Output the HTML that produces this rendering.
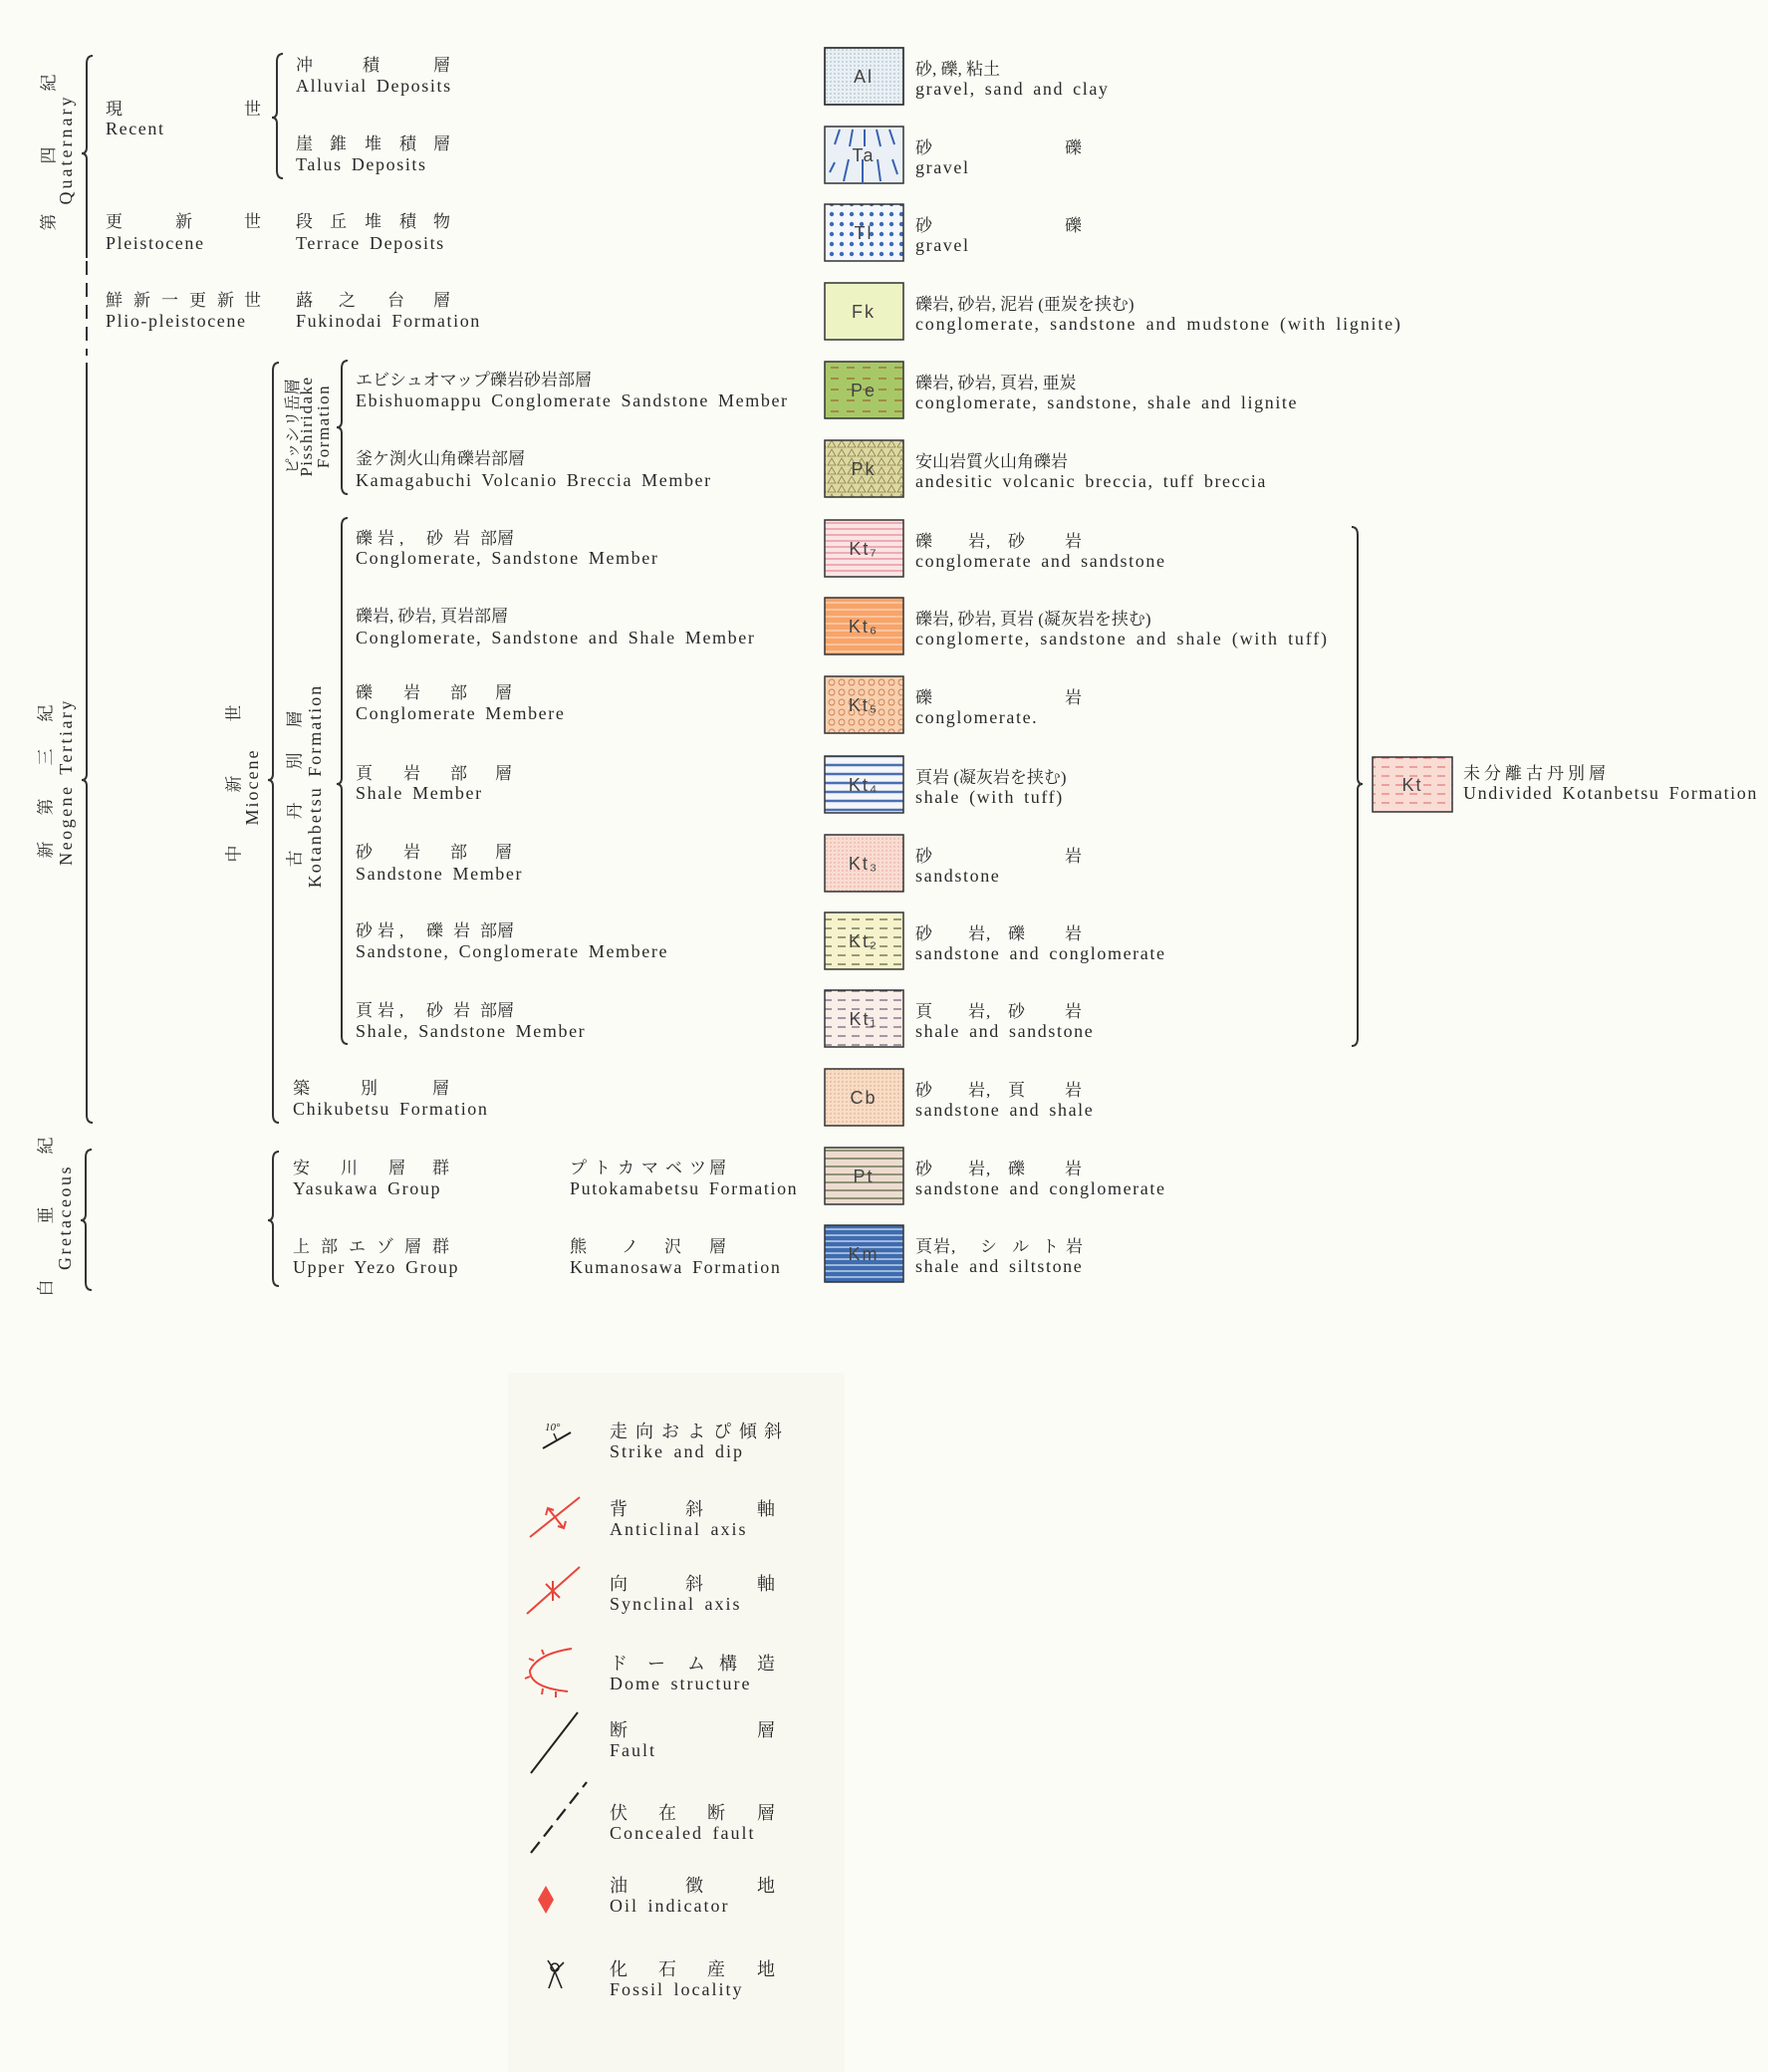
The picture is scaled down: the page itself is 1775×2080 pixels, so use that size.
<!DOCTYPE html>
<html><head><meta charset="utf-8">
<style>
html,body{margin:0;padding:0;background:#fcfcf6;}
svg{display:block;}
.e{font-family:"Liberation Serif",serif;font-size:18px;letter-spacing:1.6px;word-spacing:3px;fill:#2a2a2a;}
.j{font-family:"Liberation Serif","Noto Serif CJK SC",serif;font-size:17px;fill:#2a2a2a;}
.l{font-family:"Liberation Sans",sans-serif;font-size:18px;fill:#444;letter-spacing:2px;}
.br{fill:none;stroke:#333;stroke-width:2;}
</style></head><body>
<svg width="1775" height="2080" viewBox="0 0 1775 2080" xmlns="http://www.w3.org/2000/svg">
<defs>
<pattern id="dotfine" width="4" height="4" patternUnits="userSpaceOnUse"><circle cx="2" cy="2" r="0.7" fill="#9ab"/></pattern>
<pattern id="tl" width="10" height="10" patternUnits="userSpaceOnUse"><rect width="10" height="10" fill="#f4f8fc"/><circle cx="5" cy="5" r="2.2" fill="#3a6ab8"/></pattern>
<pattern id="pe" width="16" height="11" patternUnits="userSpaceOnUse"><rect width="16" height="11" fill="#a8c868"/><line x1="2" y1="6" x2="10" y2="6" stroke="#9a6a30" stroke-width="1.3"/></pattern>
<pattern id="pk" width="10" height="9" patternUnits="userSpaceOnUse"><rect width="10" height="9" fill="#dcd8a0"/><path d="M1 8 L5 1 L9 8 Z" fill="none" stroke="#8a8050" stroke-width="0.8"/></pattern>
<pattern id="kt7" width="10" height="6" patternUnits="userSpaceOnUse"><rect width="10" height="6" fill="#fbe4e4"/><line x1="0" y1="3" x2="10" y2="3" stroke="#e07080" stroke-width="1"/></pattern>
<pattern id="kt6" width="10" height="7" patternUnits="userSpaceOnUse"><rect width="10" height="7" fill="#f7a46a"/><line x1="0" y1="3" x2="10" y2="3" stroke="#fcd0b0" stroke-width="1.5"/></pattern>
<pattern id="kt5" width="10" height="10" patternUnits="userSpaceOnUse"><rect width="10" height="10" fill="#f8d0b0"/><circle cx="5" cy="5" r="3" fill="none" stroke="#d08050" stroke-width="0.9"/></pattern>
<pattern id="kt4" width="10" height="9" patternUnits="userSpaceOnUse"><rect width="10" height="9" fill="#f4f6fa"/><line x1="0" y1="3" x2="10" y2="3" stroke="#4a70b0" stroke-width="2.5"/></pattern>
<pattern id="kt3" width="4" height="4" patternUnits="userSpaceOnUse"><rect width="4" height="4" fill="#f9dcd2"/><circle cx="2" cy="2" r="0.7" fill="#e0a090"/></pattern>
<pattern id="kt2" width="14" height="9" patternUnits="userSpaceOnUse"><rect width="14" height="9" fill="#f6f2cc"/><line x1="1" y1="5" x2="9" y2="5" stroke="#5a6040" stroke-width="1.2"/></pattern>
<pattern id="kt1" width="14" height="9" patternUnits="userSpaceOnUse"><rect width="14" height="9" fill="#faeee8"/><line x1="1" y1="5" x2="9" y2="5" stroke="#605070" stroke-width="1.1"/></pattern>
<pattern id="cb" width="4" height="4" patternUnits="userSpaceOnUse"><rect width="4" height="4" fill="#f9dcc4"/><circle cx="2" cy="2" r="0.7" fill="#d0a080"/></pattern>
<pattern id="pt" width="10" height="8" patternUnits="userSpaceOnUse"><rect width="10" height="8" fill="#ecdcd0"/><line x1="0" y1="3" x2="10" y2="3" stroke="#7a8060" stroke-width="1.6"/></pattern>
<pattern id="km" width="10" height="6" patternUnits="userSpaceOnUse"><rect width="10" height="6" fill="#3e6cb0"/><line x1="0" y1="4" x2="10" y2="4" stroke="#c8d8f0" stroke-width="1.4"/></pattern>
<pattern id="kt" width="14" height="9" patternUnits="userSpaceOnUse"><rect width="14" height="9" fill="#f9dcd4"/><line x1="1" y1="5" x2="9" y2="5" stroke="#e07070" stroke-width="1.1"/></pattern>
</defs>

<!-- legend background -->
<rect x="510" y="1378" width="338" height="702" fill="#f9f8f0"/>

<!-- brackets -->
<path class="br" d="M93 56 Q87 56 87 64 L87 148 Q87 154 82 154 Q87 154 87 160 L87 259"/>
<line x1="87" y1="262" x2="87" y2="357" stroke="#333" stroke-width="2" stroke-dasharray="14 8"/>
<path class="br" d="M87 364 L87 777 Q87 783 82 783 Q87 783 87 789 L87 1119 Q87 1127 93 1127"/>
<path class="br" d="M284 54 Q278 54 278 62 L278 112 Q278 118 273 118 Q278 118 278 124 L278 171 Q278 179 284 179"/>
<path class="br" d="M280 364 Q274 364 274 372 L274 777 Q274 783 269 783 Q274 783 274 789 L274 1119 Q274 1127 280 1127"/>
<path class="br" d="M349 362 Q343 362 343 370 L343 423 Q343 429 338 429 Q343 429 343 435 L343 488 Q343 496 349 496"/>
<path class="br" d="M349 520 Q343 520 343 528 L343 781 Q343 787 338 787 Q343 787 343 793 L343 1040 Q343 1048 349 1048"/>
<path class="br" d="M92 1154 Q86 1154 86 1162 L86 1219 Q86 1225 81 1225 Q86 1225 86 1231 L86 1287 Q86 1295 92 1295"/>
<path class="br" d="M280 1156 Q274 1156 274 1164 L274 1219 Q274 1225 269 1225 Q274 1225 274 1231 L274 1283 Q274 1291 280 1291"/>
<path class="br" d="M1357 529 Q1363 529 1363 537 L1363 781 Q1363 787 1368 787 Q1363 787 1363 793 L1363 1042 Q1363 1050 1357 1050"/>

<!-- vertical labels -->
<g class="j" text-anchor="middle" dominant-baseline="central">
<text x="49" y="83" transform="rotate(-90 49 83)">紀</text>
<text x="49" y="156" transform="rotate(-90 49 156)">四</text>
<text x="49" y="223" transform="rotate(-90 49 223)">第</text>
<text x="46" y="716" transform="rotate(-90 46 716)">紀</text>
<text x="46" y="760" transform="rotate(-90 46 760)">三</text>
<text x="46" y="810" transform="rotate(-90 46 810)">第</text>
<text x="46" y="853" transform="rotate(-90 46 853)">新</text>
<text x="46" y="1150" transform="rotate(-90 46 1150)">紀</text>
<text x="46" y="1220" transform="rotate(-90 46 1220)">亜</text>
<text x="46" y="1293" transform="rotate(-90 46 1293)">白</text>
<text x="235" y="716" transform="rotate(-90 235 716)">世</text>
<text x="235" y="787" transform="rotate(-90 235 787)">新</text>
<text x="235" y="857" transform="rotate(-90 235 857)">中</text>
<text x="296" y="722" transform="rotate(-90 296 722)">層</text>
<text x="296" y="764" transform="rotate(-90 296 764)">別</text>
<text x="296" y="814" transform="rotate(-90 296 814)">丹</text>
<text x="296" y="862" transform="rotate(-90 296 862)">古</text>
</g>
<text class="e" transform="translate(72,150) rotate(-90)" text-anchor="middle" style="letter-spacing:3px">Quaternary</text>
<text class="e" transform="translate(72,785) rotate(-90)" text-anchor="middle" style="letter-spacing:2.5px">Neogene Tertiary</text>
<text class="e" transform="translate(71,1222) rotate(-90)" text-anchor="middle" style="letter-spacing:2.5px">Gretaceous</text>
<text class="e" transform="translate(259,790) rotate(-90)" text-anchor="middle" style="letter-spacing:2px">Miocene</text>
<text class="j" transform="translate(299,428) rotate(-90)" text-anchor="middle" style="font-size:16px">ピッシリ岳層</text>
<text class="e" transform="translate(313,428) rotate(-90)" text-anchor="middle" style="font-size:17px;letter-spacing:1.5px">Pisshiridake</text>
<text class="e" transform="translate(330,428) rotate(-90)" text-anchor="middle" style="font-size:17px;letter-spacing:1.5px">Formation</text>
<text class="e" transform="translate(322,789) rotate(-90)" text-anchor="middle" style="letter-spacing:2px">Kotanbetsu Formation</text>

<!-- epochs -->
<text class="j" x="106 245" y="115">現世</text>
<text class="e" x="106" y="135">Recent</text>
<text class="j" x="106 176 245" y="228">更新世</text>
<text class="e" x="106" y="250">Pleistocene</text>
<text class="j" x="106 134 162 190 218 245" y="307">鮮新一更新世</text>
<text class="e" x="106" y="328">Plio-pleistocene</text>

<!-- formations -->
<text class="j" x="297 364 435" y="71">冲積層</text>
<text class="e" x="297" y="92">Alluvial Deposits</text>
<text class="j" x="297 331 366 401 435" y="150">崖錐堆積層</text>
<text class="e" x="297" y="171">Talus Deposits</text>
<text class="j" x="297 331 366 401 435" y="228">段丘堆積物</text>
<text class="e" x="297" y="250">Terrace Deposits</text>
<text class="j" x="297 340 389 435" y="307">蕗之台層</text>
<text class="e" x="297" y="328">Fukinodai Formation</text>

<!-- members -->
<text class="j" x="357" y="387">エビシュオマップ礫岩砂岩部層</text>
<text class="e" x="357" y="408">Ebishuomappu  Conglomerate Sandstone Member</text>
<text class="j" x="357" y="466">釜ケ渕火山角礫岩部層</text>
<text class="e" x="357" y="488">Kamagabuchi Volcanio Breccia Member</text>
<text class="j" x="357 379 401 428 455 482" y="546">礫岩,砂岩部層</text>
<text class="e" x="357" y="566">Conglomerate,  Sandstone Member</text>
<text class="j" x="357" y="624">礫岩, 砂岩, 頁岩部層</text>
<text class="e" x="357" y="646">Conglomerate,  Sandstone and Shale Member</text>
<text class="j" x="357 405 452 497" y="701">礫岩部層</text>
<text class="e" x="357" y="722">Conglomerate Membere</text>
<text class="j" x="357 405 452 497" y="782">頁岩部層</text>
<text class="e" x="357" y="802">Shale Member</text>
<text class="j" x="357 405 452 497" y="861">砂岩部層</text>
<text class="e" x="357" y="883">Sandstone Member</text>
<text class="j" x="357 379 401 428 455 482" y="940">砂岩,礫岩部層</text>
<text class="e" x="357" y="961">Sandstone,  Conglomerate Membere</text>
<text class="j" x="357 379 401 428 455 482" y="1020">頁岩,砂岩部層</text>
<text class="e" x="357" y="1041">Shale,  Sandstone Member</text>
<text class="j" x="294 362 434" y="1098">築別層</text>
<text class="e" x="294" y="1119">Chikubetsu Formation</text>
<text class="j" x="294 342 390 434" y="1178">安川層群</text>
<text class="e" x="294" y="1199">Yasukawa Group</text>
<text class="j" x="294 322 350 378 406 434" y="1257">上部エゾ層群</text>
<text class="e" x="294" y="1278">Upper Yezo Group</text>
<text class="j" x="572 596 620 644 668 692 712" y="1178">プトカマベツ層</text>
<text class="e" x="572" y="1199">Putokamabetsu Formation</text>
<text class="j" x="572 624 667 712" y="1257">熊ノ沢層</text>
<text class="e" x="572" y="1278">Kumanosawa Formation</text>

<!-- boxes -->
<g stroke="#333" stroke-width="1.5">
<rect x="828" y="48" width="79" height="57" fill="#e8f0f4"/>
<rect x="828" y="48" width="79" height="57" fill="url(#dotfine)"/>
<rect x="828" y="127" width="79" height="57" fill="#eaf0f6"/>
<rect x="828" y="205" width="79" height="57" fill="url(#tl)"/>
<rect x="828" y="284" width="79" height="57" fill="#eef3c4"/>
<rect x="828" y="363" width="79" height="57" fill="url(#pe)"/>
<rect x="828" y="442" width="79" height="57" fill="url(#pk)"/>
<rect x="828" y="522" width="79" height="57" fill="url(#kt7)"/>
<rect x="828" y="600" width="79" height="57" fill="url(#kt6)"/>
<rect x="828" y="679" width="79" height="57" fill="url(#kt5)"/>
<rect x="828" y="759" width="79" height="57" fill="url(#kt4)"/>
<rect x="828" y="838" width="79" height="57" fill="url(#kt3)"/>
<rect x="828" y="916" width="79" height="57" fill="url(#kt2)"/>
<rect x="828" y="994" width="79" height="57" fill="url(#kt1)"/>
<rect x="828" y="1073" width="79" height="57" fill="url(#cb)"/>
<rect x="828" y="1152" width="79" height="57" fill="url(#pt)"/>
<rect x="828" y="1230" width="79" height="57" fill="url(#km)"/>
<rect x="1378" y="760" width="80" height="55" fill="url(#kt)"/>
</g>
<g stroke="#3a62b0" stroke-width="2" fill="none">
<path d="M843 130 L838 145 M856 130 L853 147 M868 130 L868 147 M880 130 L884 147 M893 130 L898 145 M838 163 L833 173 M852 160 L847 182 M866 160 L866 184 M881 160 L884 182 M896 160 L901 175"/>
</g>
<g class="l" text-anchor="middle">
<text x="867" y="83">Al</text><text x="867" y="162">Ta</text><text x="867" y="240">Tl</text><text x="867" y="319">Fk</text>
<text x="867" y="398">Pe</text><text x="867" y="477">Pk</text><text x="867" y="557">Kt₇</text><text x="867" y="635">Kt₆</text>
<text x="867" y="714">Kt₅</text><text x="867" y="794">Kt₄</text><text x="867" y="873">Kt₃</text><text x="867" y="951">Kt₂</text>
<text x="867" y="1029">Kt₁</text><text x="867" y="1108">Cb</text><text x="867" y="1187">Pt</text><text x="867" y="1265">Km</text>
<text x="1418" y="794">Kt</text>
</g>

<!-- descriptions -->
<text class="j" x="919" y="75">砂, 礫, 粘土</text>
<text class="e" x="919" y="95">gravel,  sand and clay</text>
<text class="j" x="919 1069" y="154">砂礫</text>
<text class="e" x="919" y="174">gravel</text>
<text class="j" x="919 1069" y="232">砂礫</text>
<text class="e" x="919" y="252">gravel</text>
<text class="j" x="919" y="311">礫岩, 砂岩, 泥岩 (亜炭を挟む)</text>
<text class="e" x="919" y="331" style="letter-spacing:1.8px">conglomerate,  sandstone and mudstone  (with lignite)</text>
<text class="j" x="919" y="390">礫岩, 砂岩, 頁岩, 亜炭</text>
<text class="e" x="919" y="410">conglomerate,  sandstone,  shale and lignite</text>
<text class="j" x="919" y="469">安山岩質火山角礫岩</text>
<text class="e" x="919" y="489">andesitic volcanic breccia,  tuff breccia</text>
<text class="j" x="919 972 990 1012 1069" y="549">礫岩,砂岩</text>
<text class="e" x="919" y="569">conglomerate and sandstone</text>
<text class="j" x="919" y="627">礫岩, 砂岩, 頁岩 (凝灰岩を挟む)</text>
<text class="e" x="919" y="647" style="letter-spacing:1.8px">conglomerte,  sandstone and shale  (with tuff)</text>
<text class="j" x="919 1069" y="706">礫岩</text>
<text class="e" x="919" y="726">conglomerate.</text>
<text class="j" x="919" y="786">頁岩 (凝灰岩を挟む)</text>
<text class="e" x="919" y="806">shale  (with tuff)</text>
<text class="j" x="919 1069" y="865">砂岩</text>
<text class="e" x="919" y="885">sandstone</text>
<text class="j" x="919 972 990 1012 1069" y="943">砂岩,礫岩</text>
<text class="e" x="919" y="963">sandstone and conglomerate</text>
<text class="j" x="919 972 990 1012 1069" y="1021">頁岩,砂岩</text>
<text class="e" x="919" y="1041">shale and sandstone</text>
<text class="j" x="919 972 990 1012 1069" y="1100">砂岩,頁岩</text>
<text class="e" x="919" y="1120">sandstone and shale</text>
<text class="j" x="919 972 990 1012 1069" y="1179">砂岩,礫岩</text>
<text class="e" x="919" y="1199">sandstone and conglomerate</text>
<text class="j" x="919 937 955 984 1016 1046 1070" y="1257">頁岩,シルト岩</text>
<text class="e" x="919" y="1277">shale and siltstone</text>
<text class="j" x="1469" y="782" style="letter-spacing:4px">未分離古丹別層</text>
<text class="e" x="1469" y="802">Undivided Kotanbetsu Formation</text>

<!-- legend texts -->
<text class="j" x="612 638 664 690 716 742 767" y="1443" style="font-size:18px">走向およぴ傾斜</text>
<text class="e" x="612" y="1463" style="letter-spacing:2px">Strike and dip</text>
<text class="j" x="612 688 760" y="1521" style="font-size:18px">背斜軸</text>
<text class="e" x="612" y="1541" style="letter-spacing:2px">Anticlinal axis</text>
<text class="j" x="612 688 760" y="1596" style="font-size:18px">向斜軸</text>
<text class="e" x="612" y="1616" style="letter-spacing:2px">Synclinal axis</text>
<text class="j" x="612 650 690 722 760" y="1676" style="font-size:18px">ドーム構造</text>
<text class="e" x="612" y="1696" style="letter-spacing:2px">Dome structure</text>
<text class="j" x="612 760" y="1743" style="font-size:18px">断層</text>
<text class="e" x="612" y="1763" style="letter-spacing:2px">Fault</text>
<text class="j" x="612 661 710 760" y="1826" style="font-size:18px">伏在断層</text>
<text class="e" x="612" y="1846" style="letter-spacing:2px">Concealed fault</text>
<text class="j" x="612 688 760" y="1899" style="font-size:18px">油徴地</text>
<text class="e" x="612" y="1919" style="letter-spacing:2px">Oil indicator</text>
<text class="j" x="612 661 710 760" y="1983" style="font-size:18px">化石産地</text>
<text class="e" x="612" y="2003" style="letter-spacing:2px">Fossil locality</text>

<!-- legend symbols -->
<line x1="545" y1="1454" x2="573" y2="1438" stroke="#222" stroke-width="2"/>
<line x1="559" y1="1446" x2="556" y2="1439" stroke="#222" stroke-width="1.5"/>
<text x="547" y="1436" style="font-family:'Liberation Serif',serif;font-size:11px;font-style:italic" fill="#222">10°</text>
<g stroke="#e8453c" stroke-width="2" fill="none">
<line x1="532" y1="1543" x2="582" y2="1503"/>
<line x1="551" y1="1515" x2="565" y2="1533"/>
<path d="M548 1521 L550 1514 L556 1516 M568 1527 L566 1534 L560 1532"/>
<line x1="529" y1="1620" x2="582" y2="1573"/>
<path d="M548 1590 L562 1604 M555 1587 L555 1607"/>
<path d="M574 1655 Q540 1660 532 1677 Q532 1694 570 1698"/>
<path d="M536 1667 L531 1665 M532 1683 L527 1685 M545 1695 L544 1701 M558 1698 L558 1704 M546 1661 L544 1656"/>
</g>
<line x1="533" y1="1780" x2="580" y2="1719" stroke="#222" stroke-width="2"/>
<line x1="533" y1="1860" x2="589" y2="1789" stroke="#222" stroke-width="2.2" stroke-dasharray="14 7"/>
<path d="M548 1893 L556 1907 L548 1921 L540 1907 Z" fill="#ef4b42"/>
<g stroke="#222" stroke-width="1.6" fill="none">
<circle cx="557" cy="1975" r="4"/>
<path d="M550 1968 L557 1979 L566 1970 M557 1979 L551 1996 M557 1979 L564 1996"/>
</g>
</svg>
</body></html>
